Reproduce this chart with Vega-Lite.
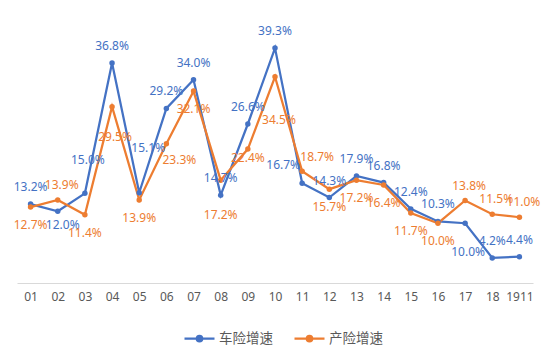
{
  "$schema": "https://vega.github.io/schema/vega-lite/v6.json",
  "autosize": {"type": "none"},
  "width": 516,
  "height": 269,
  "padding": {"left": 17, "top": 14, "right": 17, "bottom": 78},
  "background": "white",
  "config": {"view": {"stroke": null}, "font": "Noto Sans"},
  "data": {"values": [
    {"month": "01", "series": "车险增速", "value": 13.2},
    {"month": "02", "series": "车险增速", "value": 12.0},
    {"month": "03", "series": "车险增速", "value": 15.0},
    {"month": "04", "series": "车险增速", "value": 36.8},
    {"month": "05", "series": "车险增速", "value": 15.1},
    {"month": "06", "series": "车险增速", "value": 29.2},
    {"month": "07", "series": "车险增速", "value": 34.0},
    {"month": "08", "series": "车险增速", "value": 14.7},
    {"month": "09", "series": "车险增速", "value": 26.6},
    {"month": "10", "series": "车险增速", "value": 39.3},
    {"month": "11", "series": "车险增速", "value": 16.7},
    {"month": "12", "series": "车险增速", "value": 14.3},
    {"month": "13", "series": "车险增速", "value": 17.9},
    {"month": "14", "series": "车险增速", "value": 16.8},
    {"month": "15", "series": "车险增速", "value": 12.4},
    {"month": "16", "series": "车险增速", "value": 10.3},
    {"month": "17", "series": "车险增速", "value": 10.0},
    {"month": "18", "series": "车险增速", "value": 4.2},
    {"month": "1911", "series": "车险增速", "value": 4.4},
    {"month": "01", "series": "产险增速", "value": 12.7},
    {"month": "02", "series": "产险增速", "value": 13.9},
    {"month": "03", "series": "产险增速", "value": 11.4},
    {"month": "04", "series": "产险增速", "value": 29.5},
    {"month": "05", "series": "产险增速", "value": 13.9},
    {"month": "06", "series": "产险增速", "value": 23.3},
    {"month": "07", "series": "产险增速", "value": 32.1},
    {"month": "08", "series": "产险增速", "value": 17.2},
    {"month": "09", "series": "产险增速", "value": 22.4},
    {"month": "10", "series": "产险增速", "value": 34.5},
    {"month": "11", "series": "产险增速", "value": 18.7},
    {"month": "12", "series": "产险增速", "value": 15.7},
    {"month": "13", "series": "产险增速", "value": 17.2},
    {"month": "14", "series": "产险增速", "value": 16.4},
    {"month": "15", "series": "产险增速", "value": 11.7},
    {"month": "16", "series": "产险增速", "value": 10.0},
    {"month": "17", "series": "产险增速", "value": 13.8},
    {"month": "18", "series": "产险增速", "value": 11.5},
    {"month": "1911", "series": "产险增速", "value": 11.0}
  ]},
  "transform": [{"calculate": "format(datum.value, '.1f') + '%'", "as": "label"}],
  "encoding": {
    "x": {"field": "month", "type": "ordinal", "sort": null,
      "axis": {"title": null, "labelAngle": 0, "ticks": false, "grid": false, "domainColor": "#d9d9d9", "domainWidth": 1, "labelColor": "#595959", "labelFontSize": 12, "labelPadding": 8, "labelFont": "Noto Sans"}},
    "y": {"field": "value", "type": "quantitative", "scale": {"domain": [0, 45], "nice": false}, "axis": null},
    "color": {"field": "series", "type": "nominal",
      "scale": {"domain": ["车险增速", "产险增速"], "range": ["#4472C4", "#ED7D31"]},
      "legend": {"title": null, "orient": "none", "direction": "horizontal", "legendX": 166, "legendY": 308,
        "symbolType": "M-1,0H1M-0.18,0A0.18,0.18,0,1,1,0.18,0A0.18,0.18,0,1,1,-0.18,0",
        "symbolSize": 900, "symbolStrokeWidth": 2.25, "labelFont": "Noto Sans CJK SC", "labelFontSize": 13.5, "labelColor": "#595959", "columnPadding": 17, "labelOffset": 3,
        "encode": {"symbols": {"update": {"fill": {"scale": "color", "field": "value"}, "stroke": {"scale": "color", "field": "value"}}}}}}
  },
  "layer": [
    {"mark": {"type": "line", "strokeWidth": 2.25}},
    {"mark": {"type": "point", "filled": true, "size": 30, "opacity": 1}},
    {"transform": [{"filter": "datum.series=='车险增速' && indexof(['02','03','05','11','17'], datum.month) < 0"}],
     "mark": {"type": "text", "dy": -17, "fontSize": 12, "font": "Noto Sans"}, "encoding": {"text": {"field": "label"}}},
    {"transform": [{"filter": "datum.series=='车险增速' && datum.month=='11'"}],
     "mark": {"type": "text", "dx": -19, "dy": -18, "fontSize": 12, "font": "Noto Sans"}, "encoding": {"text": {"field": "label"}}},
    {"transform": [{"filter": "datum.series=='车险增速' && datum.month=='03'"}],
     "mark": {"type": "text", "dx": 3, "dy": -33, "fontSize": 12, "font": "Noto Sans"}, "encoding": {"text": {"field": "label"}}},
    {"transform": [{"filter": "datum.series=='车险增速' && datum.month=='05'"}],
     "mark": {"type": "text", "dx": 9, "dy": -45, "fontSize": 12, "font": "Noto Sans"}, "encoding": {"text": {"field": "label"}}},
    {"transform": [{"filter": "datum.series=='车险增速' && datum.month=='02'"}],
     "mark": {"type": "text", "dx": 5, "dy": 14, "fontSize": 12, "font": "Noto Sans"}, "encoding": {"text": {"field": "label"}}},
    {"transform": [{"filter": "datum.series=='车险增速' && datum.month=='17'"}],
     "mark": {"type": "text", "dx": 3, "dy": 29, "fontSize": 12, "font": "Noto Sans"}, "encoding": {"text": {"field": "label"}}},
    {"transform": [{"filter": "datum.series=='产险增速' && indexof(['01','03','05','07','12','13','14','15','16'], datum.month) >= 0"}],
     "mark": {"type": "text", "dy": 18, "fontSize": 12, "font": "Noto Sans"}, "encoding": {"text": {"field": "label"}}},
    {"transform": [{"filter": "datum.series=='产险增速' && datum.month=='06'"}],
     "mark": {"type": "text", "dx": 13, "dy": 16, "fontSize": 12, "font": "Noto Sans"}, "encoding": {"text": {"field": "label"}}},
    {"transform": [{"filter": "datum.series=='产险增速' && datum.month=='09'"}],
     "mark": {"type": "text", "dy": 9, "fontSize": 12, "font": "Noto Sans"}, "encoding": {"text": {"field": "label"}}},
    {"transform": [{"filter": "datum.series=='产险增速' && indexof(['02','17','18','1911'], datum.month) >= 0"}],
     "mark": {"type": "text", "dx": 4, "dy": -15, "fontSize": 12, "font": "Noto Sans"}, "encoding": {"text": {"field": "label"}}},
    {"transform": [{"filter": "datum.series=='产险增速' && datum.month=='11'"}],
     "mark": {"type": "text", "dx": 15, "dy": -14, "fontSize": 12, "font": "Noto Sans"}, "encoding": {"text": {"field": "label"}}},
    {"transform": [{"filter": "datum.series=='产险增速' && datum.month=='04'"}],
     "mark": {"type": "text", "dx": 3, "dy": 30, "fontSize": 12, "font": "Noto Sans"}, "encoding": {"text": {"field": "label"}}},
    {"transform": [{"filter": "datum.series=='产险增速' && datum.month=='08'"}],
     "mark": {"type": "text", "dy": 35, "fontSize": 12, "font": "Noto Sans"}, "encoding": {"text": {"field": "label"}}},
    {"transform": [{"filter": "datum.series=='产险增速' && datum.month=='10'"}],
     "mark": {"type": "text", "dx": 4, "dy": 43, "fontSize": 12, "font": "Noto Sans"}, "encoding": {"text": {"field": "label"}}}
  ]
}
